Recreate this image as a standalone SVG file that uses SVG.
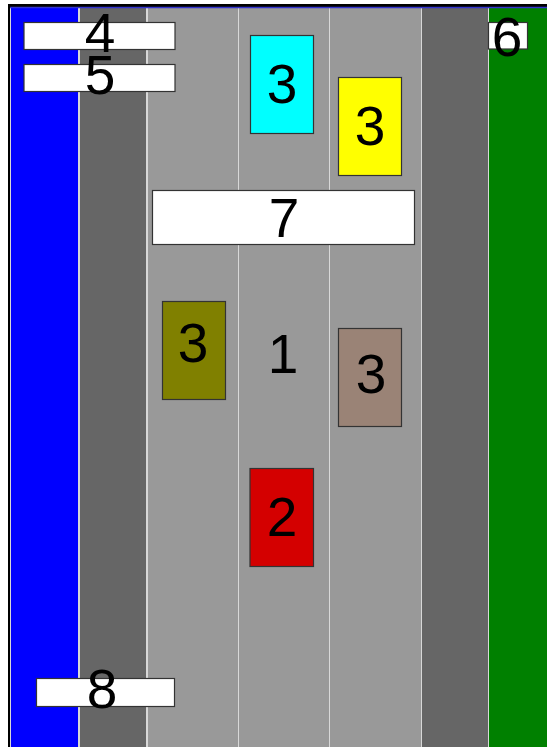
<svg xmlns="http://www.w3.org/2000/svg" width="547" height="747" viewBox="0 0 547 747">
<style>
.strip{stroke:#d8d8d8;stroke-width:1}
.box{stroke:#333;stroke-width:1.2}
.lbl{font-family:"Liberation Sans",Arial,sans-serif;font-size:55px;fill:#000;text-anchor:middle}
</style>
<rect width="547" height="747" fill="#fff"/>
<g id="background">
<rect x="8" y="4" width="539" height="743" fill="#000"/>
<rect class="strip" x="10.5" y="7.5" width="68" height="745" fill="#0000ff" stroke="#6666ff"/>
<rect class="strip" x="79.5" y="7.5" width="67" height="745" fill="#666666"/>
<rect class="strip" x="147.5" y="7.5" width="91" height="745" fill="#999999"/>
<rect class="strip" x="238.5" y="7.5" width="91" height="745" fill="#999999"/>
<rect class="strip" x="329.5" y="7.5" width="92" height="745" fill="#999999"/>
<rect class="strip" x="421.5" y="7.5" width="67" height="745" fill="#666666"/>
<rect class="strip" x="488.5" y="7.5" width="60" height="745" fill="#008000"/>
<line x1="10" y1="7.5" x2="547" y2="7.5" stroke="#3333cc" stroke-width="1.5"/>
</g>
<g id="node1"><text class="lbl" x="283" y="373">1</text></g>
<g id="node2"><rect class="box" x="250" y="468.5" width="63.5" height="98" fill="#d40000"/><text class="lbl" x="282" y="536">2</text></g>
<g id="node3a"><rect class="box" x="250.5" y="35.5" width="63" height="98" fill="#00ffff"/><text class="lbl" x="282" y="103">3</text></g>
<g id="node3b"><rect class="box" x="338.5" y="77.5" width="63" height="98" fill="#ffff00"/><text class="lbl" x="370" y="145">3</text></g>
<g id="node3c"><rect class="box" x="162.5" y="301.5" width="63" height="98" fill="#808000"/><text class="lbl" x="193" y="362">3</text></g>
<g id="node3d"><rect class="box" x="338.5" y="328.5" width="63" height="98" fill="#9a8376"/><text class="lbl" x="371" y="393">3</text></g>
<g id="node4"><rect class="box" x="24" y="22.5" width="151" height="27" fill="#fff"/><text class="lbl" x="100" y="52">4</text></g>
<g id="node5"><rect class="box" x="24" y="64.5" width="151" height="27" fill="#fff"/><text class="lbl" x="100" y="94">5</text></g>
<g id="node6"><rect class="box" x="488.5" y="22.5" width="39" height="26.5" fill="#fff"/><text class="lbl" x="507" y="56">6</text></g>
<g id="node7"><rect class="box" x="152.5" y="190.5" width="262" height="54" fill="#fff"/><text class="lbl" x="284" y="237">7</text></g>
<g id="node8"><rect class="box" x="36.5" y="678.5" width="138" height="28" fill="#fff"/><text class="lbl" x="102" y="708">8</text></g>
<g id="connectors"></g>
</svg>
